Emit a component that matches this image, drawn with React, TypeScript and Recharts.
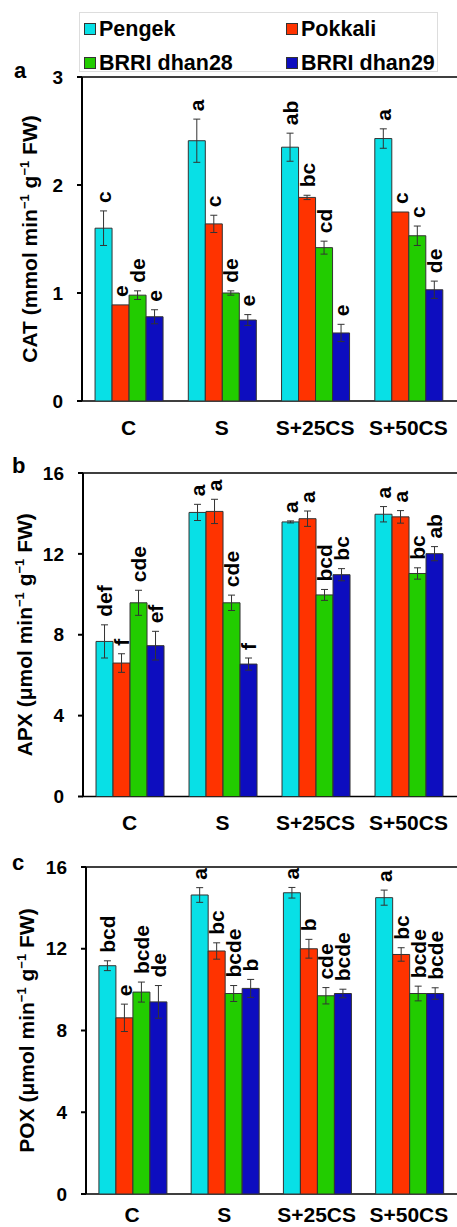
import React from 'react';
import { BarChart, Bar, XAxis, YAxis, ErrorBar, LabelList, ReferenceArea } from 'recharts';

const FONT = '"Liberation Sans", Arial, Helvetica, sans-serif';

const categories = ['C', 'S', 'S+25CS', 'S+50CS'];
const seriesNames = ['Pengek', 'Pokkali', 'BRRI dhan28', 'BRRI dhan29'];
const seriesColors = ['#08E0E6', '#FF3300', '#22CC00', '#0D0DBF'];

// Panel a: CAT (series x category)
const catMeans = [
  [1.6, 2.41, 2.35, 2.43],
  [0.89, 1.64, 1.885, 1.75],
  [0.98, 1.0, 1.42, 1.53],
  [0.78, 0.75, 0.63, 1.03],
];
const catErrors = [
  [0.16, 0.2, 0.13, 0.09],
  [0.0, 0.08, 0.02, 0.0],
  [0.04, 0.02, 0.06, 0.09],
  [0.065, 0.05, 0.08, 0.08],
];
const catLetters = [
  ['c', 'a', 'ab', 'a'],
  ['e', 'c', 'bc', 'c'],
  ['de', 'de', 'cd', 'c'],
  ['e', 'e', 'e', 'de'],
];
const catTicks = [0, 1, 2, 3];

// Panel b: APX
const apxMeans = [
  [7.67, 14.05, 13.58, 13.96],
  [6.6, 14.1, 13.74, 13.83],
  [9.58, 9.58, 9.97, 11.03],
  [7.46, 6.55, 10.97, 12.01],
];
const apxErrors = [
  [0.82, 0.4, 0.05, 0.38],
  [0.46, 0.6, 0.38, 0.31],
  [0.62, 0.38, 0.27, 0.28],
  [0.71, 0.3, 0.3, 0.35],
];
const apxLetters = [
  ['def', 'a', 'a', 'a'],
  ['f', 'a', 'a', 'a'],
  ['cde', 'cde', 'bcd', 'bc'],
  ['ef', 'f', 'bc', 'ab'],
];
const apxTicks = [0, 4, 8, 12, 16];

// Panel c: POX
const poxMeans = [
  [11.17, 14.63, 14.74, 14.5],
  [8.62, 11.89, 12.0, 11.72],
  [9.88, 9.81, 9.7, 9.81],
  [9.4, 10.06, 9.81, 9.81],
];
const poxErrors = [
  [0.24, 0.36, 0.26, 0.37],
  [0.67, 0.4, 0.46, 0.33],
  [0.49, 0.39, 0.4, 0.36],
  [0.8, 0.44, 0.21, 0.28],
];
const poxLetters = [
  ['bcd', 'a', 'a', 'a'],
  ['e', 'bc', 'b', 'bc'],
  ['bcde', 'bcde', 'cde', 'bcde'],
  ['de', 'b', 'bcde', 'bcde'],
];
const poxTicks = [0, 4, 8, 12, 16];

function buildRows(means: number[][], errs: number[][], letters: string[][]) {
  return categories.map((name, i) => {
    const row: any = { name };
    seriesNames.forEach((_, k) => {
      row[`v${k}`] = means[k][i];
      row[`e${k}`] = errs[k][i];
      row[`l${k}`] = letters[k][i];
    });
    return row;
  });
}

function YLabel({ viewBox, prefix, labelX }: any) {
  const cy = viewBox.y + viewBox.height / 2;
  return (
    <text
      x={labelX}
      y={cy}
      transform={`rotate(-90 ${labelX} ${cy})`}
      textAnchor="middle"
      fontFamily={FONT}
      fontWeight="bold"
      fontSize={21}
      fill="#000"
    >
      {prefix} min
      <tspan fontSize={13} dy={-8}>−1</tspan>
      <tspan dy={8}> g</tspan>
      <tspan fontSize={13} dy={-8}>−1</tspan>
      <tspan dy={8}> FW)</tspan>
    </text>
  );
}

type PanelProps = {
  top: number;
  height: number;
  plotTop: number;
  plotBottom: number;
  plotLeft: number;
  means: number[][];
  errs: number[][];
  letters: string[][];
  yTicks: number[];
  prefix: string;
  labelX: number;
  catMargin: number;
};

function Panel({ top, height, plotTop, plotBottom, plotLeft, means, errs, letters, yTicks, prefix, labelX, catMargin }: PanelProps) {
  const data = buildRows(means, errs, letters);
  const yMax = yTicks[yTicks.length - 1];
  const catH = 30;
  const tickStyle = { fill: '#000', fontSize: 19, fontWeight: 'bold', fontFamily: FONT };
  return (
    <div style={{ position: 'absolute', left: 0, top }}>
      <BarChart
        width={457}
        height={height}
        data={data}
        margin={{ top: plotTop - top, right: 2, left: 0, bottom: top + height - plotBottom - catH }}
        barCategoryGap="14%"
        barGap={0}
      >
        <XAxis
          xAxisId="num"
          type="number"
          domain={[0, 4]}
          ticks={[0, 1, 2, 3, 4]}
          height={0}
          tickSize={6}
          tickFormatter={() => ''}
          axisLine={{ stroke: '#000', strokeWidth: 2 }}
          tickLine={{ stroke: '#000', strokeWidth: 2 }}
          allowDataOverflow
        />
        <XAxis
          xAxisId="cat"
          dataKey="name"
          height={catH}
          axisLine={false}
          tickLine={false}
          tickSize={0}
          tickMargin={catMargin}
          interval={0}
          tick={{ ...tickStyle, fontSize: 21 }}
        />
        <YAxis
          width={plotLeft}
          domain={[0, yMax]}
          ticks={yTicks}
          interval={0}
          tickSize={5}
          tickMargin={14}
          allowDataOverflow
          axisLine={{ stroke: '#000', strokeWidth: 2 }}
          tickLine={{ stroke: '#000', strokeWidth: 2 }}
          tick={tickStyle}
          label={{ content: (p: any) => <YLabel {...p} prefix={prefix} labelX={labelX} /> }}
        />
        <ReferenceArea
          xAxisId="num"
          x1={0}
          x2={4}
          y1={0}
          y2={yMax}
          fill="none"
          fillOpacity={0}
          stroke="#000"
          strokeWidth={1.5}
          ifOverflow="visible"
        />
        {seriesNames.map((s, k) => (
          <Bar
            key={s}
            name={s}
            xAxisId="cat"
            dataKey={`v${k}`}
            fill={seriesColors[k]}
            stroke="#333"
            strokeWidth={1}
            isAnimationActive={false}
          >
            <ErrorBar dataKey={`e${k}`} width={3.5} stroke="#333" strokeWidth={1} />
            <LabelList
              dataKey={`l${k}`}
              content={(p: any) => {
                const i = p.index;
                const v = means[k][i];
                const e = errs[k][i];
                const pxPerUnit = p.height / v;
                const topY = p.y - e * pxPerUnit;
                const cx = p.x + p.width / 2 + 7.5;
                const ty = topY - 8;
                return (
                  <text
                    x={cx}
                    y={ty}
                    transform={`rotate(-90 ${cx} ${ty})`}
                    textAnchor="start"
                    fontFamily={FONT}
                    fontWeight="bold"
                    fontSize={21}
                    fill="#000"
                  >
                    {p.value}
                  </text>
                );
              }}
            />
          </Bar>
        ))}
      </BarChart>
    </div>
  );
}

function LegendBox() {
  const cols = [83, 285];
  const rows = [28, 62];
  return (
    <div
      style={{
        position: 'absolute',
        left: 79,
        top: 12,
        width: 359,
        height: 60,
        border: '1px solid #ddd',
        boxSizing: 'border-box',
      }}
    >
      {seriesNames.map((s, k) => {
        const cx = cols[k % 2] - 79;
        const cy = rows[Math.floor(k / 2)] - 12;
        return (
          <div key={s} style={{ position: 'absolute', left: cx, top: cy - 14, height: 28, display: 'flex', alignItems: 'center', whiteSpace: 'nowrap' }}>
            <span
              style={{
                display: 'inline-block',
                width: 10,
                height: 10,
                background: seriesColors[k],
                border: '1.5px solid #333',
                marginRight: 3,
              }}
            />
            <span style={{ fontFamily: FONT, fontWeight: 'bold', fontSize: 21.5, color: '#000', lineHeight: '28px' }}>{s}</span>
          </div>
        );
      })}
    </div>
  );
}

export default function App() {
  return (
    <div style={{ position: 'absolute', left: 0, top: 0, width: 457, height: 1227, background: '#fff', overflow: 'hidden' }}>
      <LegendBox />
      <Panel top={60} height={400} plotTop={77} plotBottom={401} plotLeft={82} means={catMeans} errs={catErrors} letters={catLetters} yTicks={catTicks} prefix="CAT (mmol" labelX={36.5} catMargin={19} />
      <Panel top={455} height={400} plotTop={473} plotBottom={796.5} plotLeft={83} means={apxMeans} errs={apxErrors} letters={apxLetters} yTicks={apxTicks} prefix="APX (μmol" labelX={32} catMargin={19} />
      <Panel top={850} height={377} plotTop={867} plotBottom={1194} plotLeft={86} means={poxMeans} errs={poxErrors} letters={poxLetters} yTicks={poxTicks} prefix="POX (μmol" labelX={33.5} catMargin={13} />
      <svg width={457} height={1227} style={{ position: 'absolute', left: 0, top: 0, pointerEvents: 'none' }}>
        <text x={14} y={78} fontFamily={FONT} fontWeight="bold" fontSize={22} fill="#000">a</text>
        <text x={12} y={473} fontFamily={FONT} fontWeight="bold" fontSize={22} fill="#000">b</text>
        <text x={12} y={870} fontFamily={FONT} fontWeight="bold" fontSize={22} fill="#000">c</text>
      </svg>
    </div>
  );
}
